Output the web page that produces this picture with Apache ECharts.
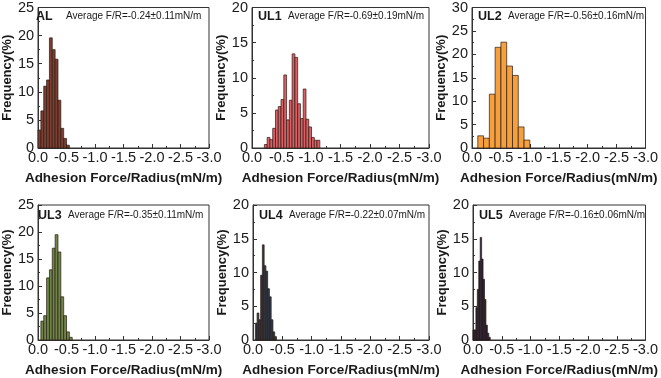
<!DOCTYPE html>
<html>
<head>
<meta charset="utf-8">
<script src="https://cdn.jsdelivr.net/npm/echarts@6/dist/echarts.min.js"></script>
<style>
  html, body { margin: 0; padding: 0; background: #fff; }
  #chart { width: 661px; height: 378px; }
</style>
</head>
<body>
<div id="chart"></div>
<script>
// histogram frequencies (%) per sample, bins start at binStart and step by binStep (magnitude of F/R)
const names = ['AL', 'UL1', 'UL2', 'UL3', 'UL4', 'UL5']
const averages = [
  'Average F/R=-0.24±0.11mN/m',
  'Average F/R=-0.69±0.19mN/m',
  'Average F/R=-0.56±0.16mN/m',
  'Average F/R=-0.35±0.11mN/m',
  'Average F/R=-0.22±0.07mN/m',
  'Average F/R=-0.16±0.06mN/m',
]
const alFreq = [3.2, 6.6, 11.0, 12.1, 19.6, 17.5, 15.8, 8.5, 3.5, 1.7, 0.5]
const ul1Freq = [0.5, 1.5, 1.2, 2.8, 5.4, 5.9, 6.9, 10.4, 4.0, 6.8, 13.4, 12.9, 6.3, 4.2, 8.4, 4.1, 3.0, 1.5, 1.1, 1.1]
const ul2Freq = [2.6, 2.1, 11.5, 21.5, 22.6, 17.5, 15.5, 4.5, 1.7]
const ul3Freq = [3.5, 4.5, 11.5, 13.0, 17.0, 19.5, 16.3, 8.0, 4.5, 1.5, 0.5]
const ul4Freq = [2.5, 4.0, 3.0, 9.6, 14.1, 11.0, 10.2, 7.6, 6.4, 3.0, 1.2, 0.5]
const ul5Freq = [1.5, 1.5, 4.8, 7.5, 11.7, 15.2, 12.0, 9.0, 6.0, 2.2, 1.0, 0.4]
const freqs = [alFreq, ul1Freq, ul2Freq, ul3Freq, ul4Freq, ul5Freq]
const binStart = [0, 0.21, 0.1, 0.05, 0.04, 0]
const binStep = [0.05, 0.047, 0.1, 0.05, 0.03, 0.025]
const yMax = [25, 20, 30, 25, 20, 20]
const xTicks = [0, -0.5, -1.0, -1.5, -2.0, -2.5, -3.0]

const colors = ['#7e3e30', '#dc5f63', '#f5a03c', '#6e8748', '#2e3b4a', '#28223f']

// frame positions of each panel
const grids = [
  { left: 30, top: 6, width: 179, height: 142 },
  { left: 252, top: 6, width: 177, height: 142 },
  { left: 472, top: 6, width: 177, height: 142 },
  { left: 32, top: 205, width: 177, height: 140 },
  { left: 253, top: 205, width: 176, height: 140 },
  { left: 473, top: 205, width: 176, height: 140 },
]

const font = 'Liberation Sans, Arial, sans-serif'
const ink = '#1a1a1a'

function histData(i) {
  return freqs[i].map((f, k) => {
    const a = binStart[i] + k * binStep[i]
    return [-a, -(a + binStep[i]), f]
  })
}

const chart = echarts.init(document.getElementById('chart'), null, { renderer: 'canvas' })

const option = {
  backgroundColor: '#fff',
  animation: false,
  grid: grids.map(g => ({ ...g, show: true, borderColor: '#333', borderWidth: 1, backgroundColor: 'transparent' })),
  xAxis: grids.map((g, i) => ({
    type: 'value',
    gridIndex: i,
    min: xTicks[xTicks.length - 1],
    max: xTicks[0],
    interval: 0.5,
    inverse: true,
    name: 'Adhesion Force/Radius(mN/m)',
    nameLocation: 'middle',
    nameGap: 23,
    nameTextStyle: { fontFamily: font, fontWeight: 'bold', fontSize: 13.5, color: ink },
    axisLine: { show: true, lineStyle: { color: '#333' } },
    axisTick: { show: true, inside: true, length: 4, lineStyle: { color: '#333' } },
    minorTick: { show: true, splitNumber: 2, length: 2, lineStyle: { color: '#333' } },
    splitLine: { show: false },
    axisLabel: {
      margin: 2,
      fontFamily: font,
      fontSize: 14.5,
      color: ink,
      formatter: v => v.toFixed(1),
    },
  })),
  yAxis: grids.map((g, i) => ({
    type: 'value',
    gridIndex: i,
    min: 0,
    max: yMax[i],
    interval: 5,
    name: 'Frequency(%)',
    nameLocation: 'middle',
    nameGap: 21,
    nameTextStyle: { fontFamily: font, fontWeight: 'bold', fontSize: 13, color: ink },
    axisLine: { show: true, lineStyle: { color: '#333' } },
    axisTick: { show: true, inside: true, length: 4, lineStyle: { color: '#333' } },
    minorTick: { show: true, splitNumber: 2, length: 2, lineStyle: { color: '#333' } },
    splitLine: { show: false },
    axisLabel: { margin: 4, fontFamily: font, fontSize: 14.5, color: ink },
  })),
  title: grids.flatMap((g, i) => [
    {
      text: names[i],
      left: g.left + 6,
      top: g.top + 4,
      padding: 0,
      textStyle: { fontFamily: font, fontWeight: 'bold', fontSize: 12.5, color: ink },
    },
    {
      text: averages[i],
      left: g.left + 36,
      top: g.top + 5,
      padding: 0,
      textStyle: { fontFamily: font, fontWeight: 'normal', fontSize: 10, color: ink },
    },
  ]),
  series: grids.map((g, i) => ({
    type: 'custom',
    xAxisIndex: i,
    yAxisIndex: i,
    encode: { x: [0, 1], y: 2 },
    data: histData(i),
    renderItem(params, api) {
      const p0 = api.coord([api.value(0), 0])
      const p1 = api.coord([api.value(1), api.value(2)])
      return {
        type: 'rect',
        shape: {
          x: Math.min(p0[0], p1[0]),
          y: p1[1],
          width: Math.abs(p1[0] - p0[0]),
          height: p0[1] - p1[1],
        },
        style: { fill: colors[i], stroke: '#2a1a14', lineWidth: 0.7 },
      }
    },
  })),
}

chart.setOption(option)
</script>
</body>
</html>
